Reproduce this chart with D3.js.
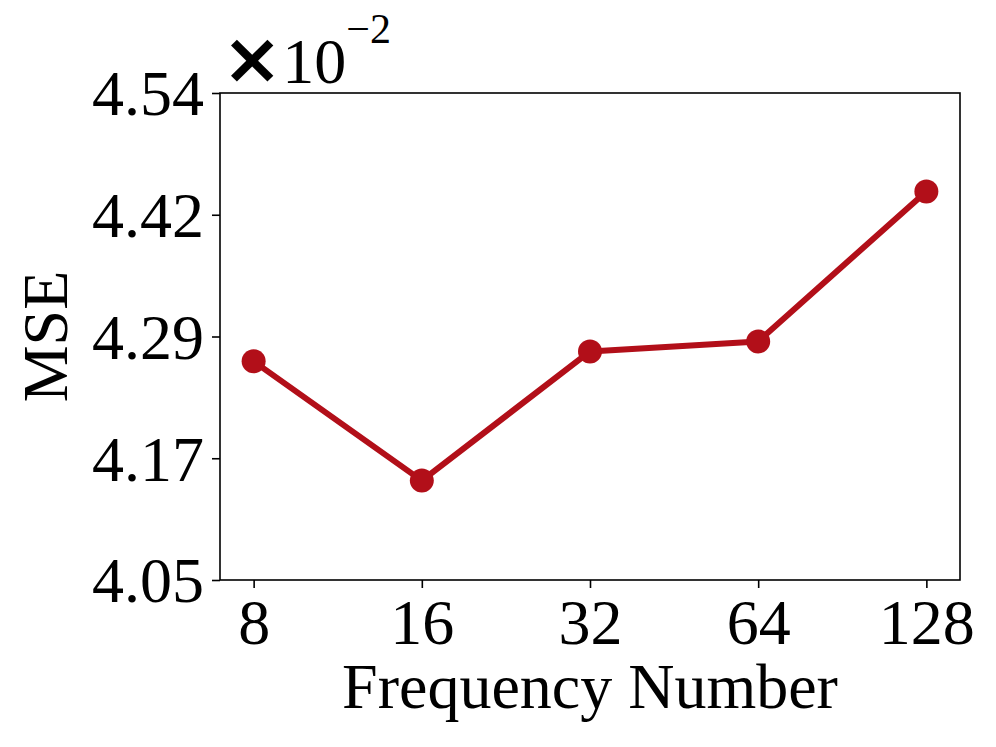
<!DOCTYPE html>
<html><head><meta charset="utf-8">
<script src="https://cdn.jsdelivr.net/npm/d3@7"></script>
<style>body{margin:0;background:#fff}svg{display:block}</style>
</head><body>
<script>
const categories = ["8","16","32","64","128"];
const mseValues = [4.270, 4.150, 4.280, 4.290, 4.441];
const yTickValues = [4.05, 4.1725, 4.295, 4.4175, 4.54];
const yTickLabels = ["4.05","4.17","4.29","4.42","4.54"];
const yDomain = [4.05, 4.54];

const W = 996, H = 747;
const m = {left: 220, right: 960, top: 93, bottom: 580};
const font = "Liberation Serif, Times New Roman, serif";
const color = "#b20f19";

const svg = d3.select("body").append("svg").attr("width", W).attr("height", H);

const x = d3.scalePoint().domain(categories).range([m.left, m.right]).padding(0.2);
const y = d3.scaleLinear().domain(yDomain).range([m.bottom, m.top]);

// frame
svg.append("rect").attr("x", m.left).attr("y", m.top)
  .attr("width", m.right - m.left).attr("height", m.bottom - m.top)
  .attr("fill", "none").attr("stroke", "#000").attr("stroke-width", 1.6);

const xAxis = svg.append("g").attr("transform", `translate(0,${m.bottom})`)
  .call(d3.axisBottom(x).tickSize(8).tickPadding(6));
const yAxis = svg.append("g").attr("transform", `translate(${m.left},0)`)
  .call(d3.axisLeft(y).tickValues(yTickValues).tickFormat((d,i)=>yTickLabels[i]).tickSize(8).tickPadding(8));
[xAxis, yAxis].forEach(g => {
  g.select(".domain").remove();
  g.selectAll(".tick line").attr("stroke", "#000").attr("stroke-width", 1.6);
  g.selectAll(".tick text").attr("font-family", font).attr("font-size", 64).attr("fill", "#000");
});
xAxis.selectAll(".tick text").attr("dy", "0.78em");
yAxis.selectAll(".tick text").attr("dy", "0.34em");

const line = d3.line().x((d,i)=>x(categories[i])).y(d=>y(d));
svg.append("path").datum(mseValues).attr("d", line)
  .attr("fill", "none").attr("stroke", color).attr("stroke-width", 6).attr("stroke-linejoin", "round");
svg.selectAll("circle.pt").data(mseValues).join("circle").attr("class","pt")
  .attr("cx", (d,i)=>x(categories[i])).attr("cy", d=>y(d)).attr("r", 12).attr("fill", color);

// labels
svg.append("text").attr("x", (m.left + m.right)/2).attr("y", 708)
  .attr("text-anchor", "middle").attr("font-family", font).attr("font-size", 64).text("Frequency Number");
svg.append("text").attr("transform", `translate(67,${(m.top+m.bottom)/2}) rotate(-90)`)
  .attr("text-anchor", "middle").attr("font-family", font).attr("font-size", 64).text("MSE");

// offset text
const off = svg.append("text").attr("x", 222).attr("y", 83).attr("font-size", 64);
off.append("tspan").attr("font-family", "DejaVu Sans").attr("font-weight", "bold").attr("font-size", 72).text("×");
off.append("tspan").attr("font-family", font).attr("dx", 0).text("10");
off.append("tspan").attr("font-family", font).attr("font-size", 42).attr("dy", -40).text("−2");
</script>
</body></html>
